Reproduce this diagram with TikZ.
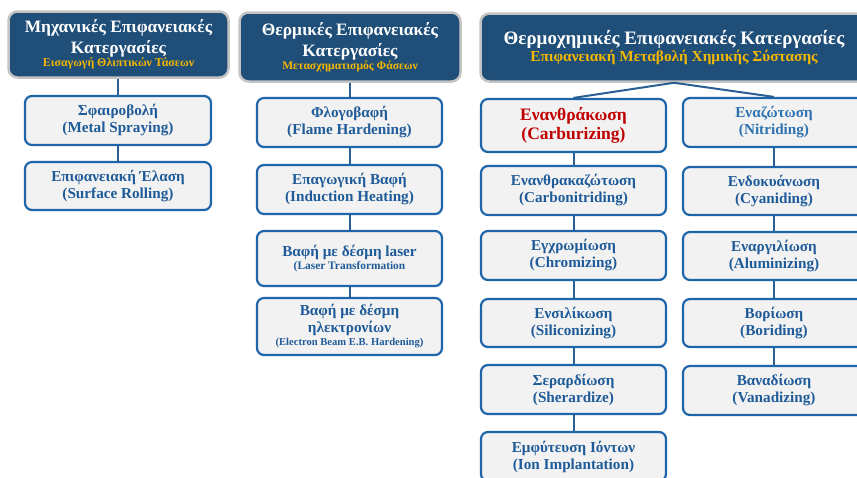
\documentclass[tikz,border=0pt]{standalone}
\usepackage{fontspec}
\setmainfont{Liberation Serif}
\definecolor{hdrfill}{HTML}{1F4E79}
\definecolor{hdrline}{HTML}{C4C4C4}
\definecolor{gold}{HTML}{F5B800}
\definecolor{boxfill}{HTML}{F2F2F2}
\definecolor{boxline}{HTML}{1F65AA}
\definecolor{boxtext}{HTML}{1F5B99}
\definecolor{nittext}{HTML}{2E72B2}
\definecolor{redtext}{HTML}{C00000}
\definecolor{linkcol}{HTML}{2B5E92}
\tikzset{
  hdr/.style={rectangle, rounded corners=9pt, fill=hdrfill, draw=hdrline, line width=2.5pt,
    text=white, align=center, inner sep=0pt, font=\bfseries\fontsize{17.4}{21}\selectfont},
  itembox/.style={rectangle, rounded corners=7pt, fill=boxfill, draw=boxline, line width=2.2pt,
    text=boxtext, align=center, inner sep=0pt, font=\bfseries\fontsize{15.2}{17}\selectfont},
  link/.style={draw=linkcol, line width=2pt}
}
\newcommand{\goldsub}[2]{{\color{gold}\fontsize{#1}{#1}\selectfont #2}}
\begin{document}
\begin{tikzpicture}[x=1pt,y=-1pt]
\useasboundingbox (0,0) rectangle (857,477);
\clip (0,0) rectangle (857,477);
% headers
\node[hdr, minimum width=220pt, minimum height=66pt] (H1) at (118.5,44.5)
  {Μηχανικές Επιφανειακές\\Κατεργασίες\\[-8pt]\goldsub{11.9}{Εισαγωγή Θλιπτικών Τάσεων}};
\node[hdr, minimum width=221pt, minimum height=69pt] (H2) at (350,47)
  {Θερμικές Επιφανειακές\\Κατεργασίες\\[-8pt]\goldsub{11.6}{Μετασχηματισμός Φάσεων}};
\node[hdr, minimum width=387pt, minimum height=68pt, font=\bfseries\fontsize{19}{21}\selectfont] (H3) at (674,47.5)
  {Θερμοχημικές Επιφανειακές Κατεργασίες\\[-4pt]\goldsub{15.3}{Επιφανειακή Μεταβολή Χημικής Σύστασης}};
% column 1
\node[itembox, minimum width=186pt, minimum height=49pt] (A1) at (118,120.5) {Σφαιροβολή\\(Metal Spraying)};
\node[itembox, minimum width=186pt, minimum height=48pt] (A2) at (118,186) {Επιφανειακή Έλαση\\(Surface Rolling)};
% column 2
\node[itembox, minimum width=185pt, minimum height=49pt] (B1) at (349.5,122.5) {Φλογοβαφή\\(Flame Hardening)};
\node[itembox, minimum width=185pt, minimum height=49pt] (B2) at (349.5,189.5) {Επαγωγική Βαφή\\(Induction Heating)};
\node[itembox, minimum width=185pt, minimum height=55pt] (B3) at (349.5,258.5)
  {Βαφή με δέσμη laser\\[-4pt]{\fontsize{11.4}{13}\selectfont (Laser Transformation}};
\node[itembox, minimum width=185pt, minimum height=57pt] (B4) at (349.5,326.5)
  {Βαφή με δέσμη\\ηλεκτρονίων\\[-4pt]{\fontsize{10.6}{12}\selectfont (Electron Beam E.B. Hardening)}};
% column 3 left
\node[itembox, minimum width=185pt, minimum height=53pt, text=redtext, font=\bfseries\fontsize{17.5}{18.5}\selectfont] (C1) at (573.5,125.5) {Ενανθράκωση\\(Carburizing)};
\node[itembox, minimum width=185pt, minimum height=49pt] (C2) at (573.5,190.5) {Ενανθρακαζώτωση\\(Carbonitriding)};
\node[itembox, minimum width=185pt, minimum height=49pt] (C3) at (573.5,255.5) {Εγχρωμίωση\\(Chromizing)};
\node[itembox, minimum width=185pt, minimum height=48pt] (C4) at (573.5,323) {Ενσιλίκωση\\(Siliconizing)};
\node[itembox, minimum width=185pt, minimum height=49pt] (C5) at (573.5,389.5) {Σεραρδίωση\\(Sherardize)};
\node[itembox, minimum width=185pt, minimum height=49pt] (C6) at (573.5,456.5) {Εμφύτευση Ιόντων\\(Ion Implantation)};
% column 3 right
\node[itembox, minimum width=182pt, minimum height=49pt, text=nittext, font=\bfseries\fontsize{15.2}{17}\selectfont] (D1) at (774,122.5) {Εναζώτωση\\(Nitriding)};
\node[itembox, minimum width=182pt, minimum height=48pt] (D2) at (774,191) {Ενδοκυάνωση\\(Cyaniding)};
\node[itembox, minimum width=182pt, minimum height=48pt] (D3) at (774,256) {Εναργιλίωση\\(Aluminizing)};
\node[itembox, minimum width=182pt, minimum height=48pt] (D4) at (774,323) {Βορίωση\\(Boriding)};
\node[itembox, minimum width=182pt, minimum height=49pt] (D5) at (774,390.5) {Βαναδίωση\\(Vanadizing)};
% connectors
\draw[link] (H1.south -| A1.north) -- (A1.north);
\draw[link] (A1.south) -- (A2.north);
\draw[link] (H2.south -| B1.north) -- (B1.north);
\draw[link] (B1.south) -- (B2.north);
\draw[link] (B2.south) -- (B3.north);
\draw[link] (B3.south) -- (B4.north);
\draw[link] (H3.south) -- (C1.north);
\draw[link] (H3.south) -- (D1.north);
\draw[link] (C1.south) -- (C2.north);
\draw[link] (C2.south) -- (C3.north);
\draw[link] (C3.south) -- (C4.north);
\draw[link] (C4.south) -- (C5.north);
\draw[link] (C5.south) -- (C6.north);
\draw[link] (D1.south) -- (D2.north);
\draw[link] (D2.south) -- (D3.north);
\draw[link] (D3.south) -- (D4.north);
\draw[link] (D4.south) -- (D5.north);
\end{tikzpicture}
\end{document}
